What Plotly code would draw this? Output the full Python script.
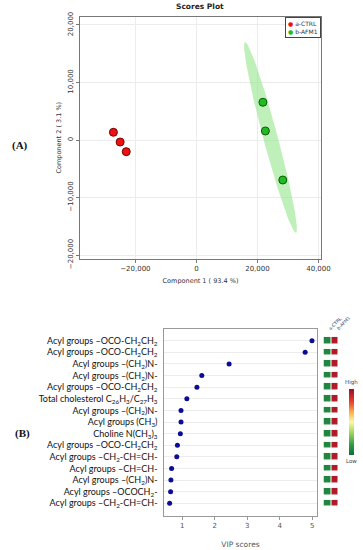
import numpy as np
import plotly.graph_objects as go

W, H = 363, 550

# ---------------- Panel A data (PLS-DA scores) ----------------
ctrl_x = [-27200, -25000, -23000]
ctrl_y = [1340, -350, -2030]
afm_x = [21800, 22600, 28300]
afm_y = [6560, 1570, -6960]
group_names = ["a-CTRL", "b-AFM1"]
group_colors = ["#ee1111", "#22bb22"]

# confidence ellipse for b-AFM1: centre, semi-major vector, semi-minor vector (data units)
ell_center = (24280, 435)
ell_major = (8355, -16600)
ell_minor = (2280, 323)

xticks_a = [-20000, 0, 20000, 40000]
yticks_a = [-20000, -10000, 0, 10000, 20000]

# ---------------- Panel B data (VIP scores) ----------------
features = [
    "Acyl groups \u2013OCO-CH<sub>2</sub>CH<sub>2</sub>",
    "Acyl groups \u2013OCO-CH<sub>2</sub>CH<sub>2</sub>",
    "Acyl groups \u2013(CH<sub>2</sub>)N-",
    "Acyl groups \u2013(CH<sub>2</sub>)N-",
    "Acyl groups \u2013OCO-CH<sub>2</sub>CH<sub>2</sub>",
    "Total cholesterol C<sub>26</sub>H<sub>3</sub>/C<sub>27</sub>H<sub>3</sub>",
    "Acyl groups \u2013(CH<sub>2</sub>)N-",
    "Acyl groups (CH<sub>3</sub>)",
    "Choline N(CH<sub>3</sub>)<sub>3</sub>",
    "Acyl groups \u2013OCO-CH<sub>2</sub>CH<sub>2</sub>",
    "Acyl groups \u2013CH<sub>2</sub>-CH=CH-",
    "Acyl groups \u2013CH=CH-",
    "Acyl groups \u2013(CH<sub>2</sub>)N-",
    "Acyl groups \u2013OCOCH<sub>2</sub>-",
    "Acyl groups \u2013CH<sub>2</sub>-CH=CH-",
]
vip = [4.99, 4.78, 2.44, 1.60, 1.45, 1.14, 0.96, 0.96, 0.94, 0.85, 0.83, 0.67, 0.65, 0.64, 0.61]
rel_ctrl = [0.08] * 15   # relative concentration in a-CTRL (low)
rel_afm = [0.95] * 15    # relative concentration in b-AFM1 (high)
xticks_b = [1, 2, 3, 4, 5]

def px(x): return x / W
def py(y): return 1 - y / H

fig = go.Figure()

# ellipse
t = np.linspace(0, 2 * np.pi, 200)
ex = ell_center[0] + ell_major[0] * np.cos(t) + ell_minor[0] * np.sin(t)
ey = ell_center[1] + ell_major[1] * np.cos(t) + ell_minor[1] * np.sin(t)
fig.add_trace(go.Scatter(x=ex, y=ey, mode="lines", fill="toself",
                         fillcolor="rgba(150,230,140,0.6)", line=dict(width=0),
                         hoverinfo="skip", showlegend=False, xaxis="x", yaxis="y"))

fig.add_trace(go.Scatter(x=ctrl_x, y=ctrl_y, mode="markers", name=group_names[0], showlegend=False,
                         marker=dict(color=group_colors[0], size=8, line=dict(color="#7a0000", width=1)),
                         xaxis="x", yaxis="y"))
fig.add_trace(go.Scatter(x=afm_x, y=afm_y, mode="markers", name=group_names[1], showlegend=False,
                         marker=dict(color=group_colors[1], size=8, line=dict(color="#0a5a0a", width=1)),
                         xaxis="x", yaxis="y"))

# Panel B scatter
rows = list(range(len(features)))
fig.add_trace(go.Scatter(x=vip, y=rows, mode="markers", showlegend=False,
                         marker=dict(color="#0c0c96", size=5),
                         xaxis="x2", yaxis="y2"))

# heatmap of relative levels
z = [[a, b] for a, b in zip(rel_ctrl, rel_afm)]
cscale = [[0.0, "#0f6e35"], [0.15, "#2e9a48"], [0.35, "#a8d860"], [0.5, "#fbf7a8"],
          [0.65, "#fbb04a"], [0.8, "#e8442c"], [1.0, "#9e0a26"]]
fig.add_trace(go.Heatmap(z=z, x=[0, 1], y=rows, colorscale=cscale, zmin=0, zmax=1,
                         xgap=1, ygap=5.5, xaxis="x3", yaxis="y3", showscale=True,
                         colorbar=dict(thickness=5, lenmode="pixels", len=66,
                                       x=px(349.3), xanchor="left", xref="paper",
                                       y=py(422), yanchor="middle", yref="paper",
                                       outlinewidth=0, showticklabels=False, ticks="",
                                       xpad=0, ypad=0)))

axfont = dict(family="DejaVu Sans", size=7, color="#333")
yrange_b = [14 + 1.09, -0.98]

fig.update_layout(
    width=W, height=H, margin=dict(l=0, r=0, t=0, b=0, autoexpand=False),
    paper_bgcolor="white", plot_bgcolor="white",
    font=dict(family="DejaVu Sans", color="#222"),
    showlegend=False,
    xaxis=dict(domain=[px(80), px(321)], anchor="y", range=[-38150, 40830],
               tickvals=xticks_a, tickformat=",", tickfont=axfont,
               showgrid=True, gridcolor="#ececec", gridwidth=1, zeroline=False,
               showline=True, mirror=True, linecolor="#777", linewidth=1,
               ticks="outside", ticklen=3, tickcolor="#777",
               title=dict(text="Component 1 ( 93.4 %)", font=dict(family="DejaVu Sans", size=6.5, color="#333"),
                          standoff=6)),
    yaxis=dict(domain=[py(258.7), py(16.7)], anchor="x", range=[-20640, 21440],
               tickvals=yticks_a, tickformat=",", tickfont=axfont, tickangle=-90,
               showgrid=True, gridcolor="#ececec", gridwidth=1, zeroline=False,
               showline=True, mirror=True, linecolor="#777", linewidth=1,
               ticks="outside", ticklen=3, tickcolor="#777",
               title=dict(text="Component 2 ( 3.1 %)", font=dict(family="DejaVu Sans", size=6.5, color="#333"),
                          standoff=4)),
    xaxis2=dict(domain=[px(164.3), px(316.7)], anchor="y2", range=[0.446, 5.135],
                tickvals=xticks_b, tickfont=dict(family="DejaVu Sans", size=7, color="#555"),
                showgrid=False, zeroline=False,
                showline=True, mirror=True, linecolor="#999", linewidth=1,
                ticks="outside", ticklen=3, tickcolor="#999",
                title=dict(text="VIP scores", font=dict(family="DejaVu Sans", size=7.5, color="#555"),
                           standoff=12)),
    yaxis2=dict(domain=[py(516), py(329.3)], anchor="x2", range=yrange_b,
                tickvals=rows, ticktext=features,
                tickfont=dict(family="Lato", size=9, color="#111"),
                showgrid=True, gridcolor="#ececec", gridwidth=1, zeroline=False,
                showline=True, mirror=True, linecolor="#999", linewidth=1,
                ticks="", ticklabelstandoff=4),
    xaxis3=dict(domain=[px(323.5), px(338.5)], anchor="y3", range=[-0.5, 1.5],
                visible=False),
    yaxis3=dict(domain=[py(516), py(329.3)], anchor="x3", range=yrange_b,
                visible=False),
)

legend_text = "<br>".join(
    f"<span style='color:{c}'>\u25CF</span> {g}" for g, c in zip(group_names, group_colors))

def lbl(text, x, y, size, family="DejaVu Sans", color="#444"):
    return dict(text=text, x=px(x), y=py(y), xref="paper", yref="paper",
                xanchor="center", yanchor="middle", showarrow=False,
                font=dict(family=family, size=size, color=color))

annotations = [
    lbl("<b>Scores Plot</b>", 200, 7, 7.5, color="#222"),
    dict(text=legend_text, x=px(320.5), y=py(17.2), xref="paper", yref="paper",
         xanchor="right", yanchor="top", align="left", showarrow=False,
         bgcolor="white", bordercolor="#444", borderwidth=1, borderpad=2,
         font=dict(family="DejaVu Sans", size=6, color="#333")),
    lbl("<b>(A)</b>", 20, 145, 11, family="Liberation Serif", color="#111"),
    lbl("<b>(B)</b>", 22, 433, 11, family="Liberation Serif", color="#111"),
    lbl("High", 351.8, 382.5, 5.5),
    lbl("Low", 351.8, 461, 5.5),
]
for i, g in enumerate(group_names):
    annotations.append(dict(text=g, x=i - 0.3, y=-0.6, xref="x3", yref="y3",
                            xanchor="left", yanchor="bottom", textangle=-45,
                            showarrow=False, font=dict(family="DejaVu Sans", size=4.5, color="#444")))
fig.update_layout(annotations=annotations)

fig.write_html("out.html", config={"displayModeBar": False},
               post_script="document.body.style.margin='0';document.body.style.padding='0';")
